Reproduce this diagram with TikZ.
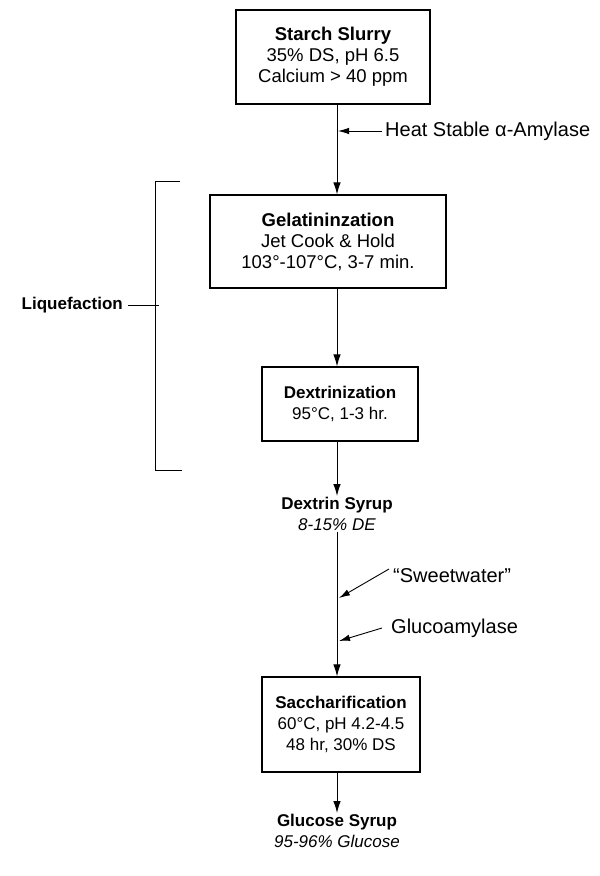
\documentclass[tikz,border=0pt]{standalone}
\usepackage{fontspec}
\setmainfont{Liberation Sans}
\usetikzlibrary{arrows.meta}
\begin{document}
\begin{tikzpicture}[x=1pt,y=-1pt,
  txt/.style={font=\fontsize{17}{21}\selectfont},
  bigtxt/.style={font=\fontsize{18.5}{21}\selectfont},
  sidetxt/.style={font=\fontsize{20}{22}\selectfont},
  proc/.style={draw,line width=1.1pt,align=center,inner sep=0pt,txt},
  lbl/.style={align=center,inner sep=1pt,txt},
  flow/.style={line width=1pt,-{Latex[length=12pt,width=7.5pt]}},
  side/.style={line width=0.9pt,-{Latex[length=11pt,width=6.5pt]}},
  brk/.style={line width=1pt},
]
\useasboundingbox (0,0) rectangle (600,876);
\coordinate (ax) at (337,0);
\node[proc,bigtxt,minimum width=194pt,minimum height=94pt] (starch) at (333,57) {\textbf{Starch Slurry}\\35\% DS, pH 6.5\\Calcium > 40 ppm};
\node[proc,bigtxt,minimum width=236pt,minimum height=93pt] (gel) at (328,241.5) {\textbf{Gelatininzation}\\Jet Cook \& Hold\\103°-107°C, 3-7 min.};
\node[proc,minimum width=156pt,minimum height=74pt] (dex) at (340,404) {\textbf{Dextrinization}\\95°C, 1-3 hr.};
\node[lbl] (dextrin) at (337,514) {\textbf{Dextrin Syrup}\\\textit{8-15\% DE}};
\node[proc,minimum width=158pt,minimum height=95pt] (sacch) at (341,724.5) {\textbf{Saccharification}\\60°C, pH 4.2-4.5\\48 hr, 30\% DS};
\node[lbl] (glucose) at (337,831) {\textbf{Glucose Syrup}\\\textit{95-96\% Glucose}};

\node[lbl,sidetxt,anchor=west] (heat) at (384,131) {Heat Stable α-Amylase};
\node[lbl,sidetxt,anchor=west] (sweet) at (392,576) {“Sweetwater”};
\node[lbl,sidetxt,anchor=west] (gluco) at (390,628) {Glucoamylase};
\node[lbl,anchor=east] (liq) at (124,305) {\textbf{Liquefaction}};

\draw[flow] (starch.south -| ax) -- (gel.north -| ax);
\draw[flow] (gel.south -| ax) -- (dex.north -| ax);
\draw[flow] (dex.south -| ax) -- (dextrin.north -| ax);
\draw[flow] (dextrin.south -| ax) -- (sacch.north -| ax);
\draw[flow] (sacch.south -| ax) -- (glucose.north -| ax);

\coordinate (heattip) at (338,131);
\coordinate (swtip) at (339,598);
\coordinate (gatip) at (339,641);
\draw[side] ([xshift=-2pt]heat.west) -- (heattip);
\draw[side] ([xshift=-3pt,yshift=7pt]sweet.west) -- (swtip);
\draw[side] ([xshift=-8pt]gluco.west) -- (gatip);

\coordinate (b1) at (180,181);
\coordinate (b2) at (155,181);
\coordinate (b3) at (155,470);
\coordinate (b4) at (182,470);
\draw[brk] (b1) -- (b2) -- (b3) -- (b4);
\draw[brk] ([xshift=4pt]liq.east) -- ([xshift=4pt]liq.east -| b2);
\end{tikzpicture}
\end{document}
